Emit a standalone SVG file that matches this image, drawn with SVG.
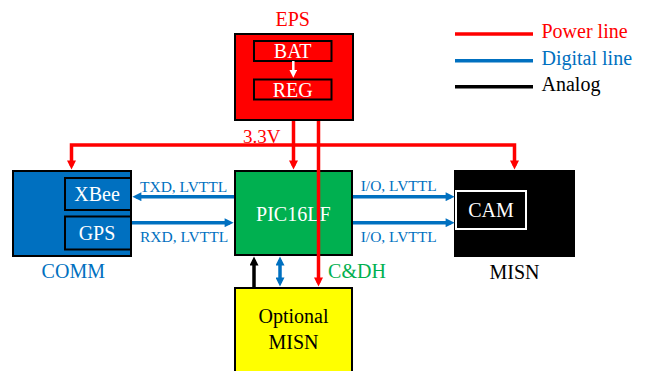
<svg xmlns="http://www.w3.org/2000/svg" width="648" height="371" viewBox="0 0 648 371" font-family="'Liberation Serif', 'DejaVu Serif', serif">
<style>
text{font-family:'Liberation Serif','DejaVu Serif',serif;}
.t20{font-size:20px;}
.lab{font-size:15.5px;fill:#0070c0;}
.c{text-anchor:middle;}
.w{fill:#ffffff;}
.box{stroke:#000000;stroke-width:2;}
.pw{stroke:#ff0000;stroke-width:3.5;fill:none;}
.dg{stroke:#0070c0;stroke-width:3.5;fill:none;}
.an{stroke:#000000;stroke-width:3.5;fill:none;}
</style>
<defs>
<marker id="ar" viewBox="0 0 10 10" refX="6" refY="5" markerWidth="10" markerHeight="9" markerUnits="userSpaceOnUse" orient="auto-start-reverse"><path d="M0,0 L10,5 L0,10 z" fill="#ff0000"/></marker>
<marker id="ab" viewBox="0 0 10 10" refX="6" refY="5" markerWidth="10" markerHeight="9" markerUnits="userSpaceOnUse" orient="auto-start-reverse"><path d="M0,0 L10,5 L0,10 z" fill="#0070c0"/></marker>
<marker id="ak" viewBox="0 0 10 10" refX="6" refY="5" markerWidth="10" markerHeight="9" markerUnits="userSpaceOnUse" orient="auto-start-reverse"><path d="M0,0 L10,5 L0,10 z" fill="#000000"/></marker>
<marker id="aw" viewBox="0 0 10 10" refX="6" refY="5" markerWidth="8" markerHeight="8" markerUnits="userSpaceOnUse" orient="auto"><path d="M0,0 L10,5 L0,10 z" fill="#ffffff"/></marker>
</defs>
<rect width="648" height="371" fill="#ffffff"/>

<g id="legend">
<line x1="455" y1="34" x2="533" y2="34" class="pw"/>
<line x1="455" y1="60.7" x2="533" y2="60.7" class="dg"/>
<line x1="455" y1="86.7" x2="533" y2="86.7" class="an"/>
<text x="541.5" y="38.3" class="t20" fill="#ff0000">Power line</text>
<text x="541.5" y="65" class="t20" fill="#0070c0">Digital line</text>
<text x="541.5" y="91" class="t20" fill="#000000">Analog</text>
</g>

<g id="eps">
<text x="292.7" y="25.5" class="t20 c" fill="#ff0000">EPS</text>
<rect x="235" y="34" width="118" height="86" fill="#ff0000" class="box"/>
<rect x="254" y="41" width="77.5" height="20" fill="#ff0000" class="box"/>
<rect x="254" y="79.5" width="77.5" height="20" fill="#ff0000" class="box"/>
<text x="292.7" y="57.5" class="t20 c w">BAT</text>
<text x="292.7" y="96.7" class="t20 c w">REG</text>
</g>

<g id="comm">
<rect x="13" y="171" width="118" height="85" fill="#0070c0" class="box"/>
<rect x="65" y="178" width="66" height="32" fill="#0070c0" class="box"/>
<rect x="65" y="216.5" width="66" height="33" fill="#0070c0" class="box"/>
<text x="97" y="200.7" class="t20 c w">XBee</text>
<text x="97" y="240" class="t20 c w">GPS</text>
<text x="73.3" y="278" class="t20 c" fill="#0070c0">COMM</text>
</g>

<g id="pic">
<rect x="235" y="171" width="117" height="84" fill="#00b050" class="box"/>
<text x="293.3" y="220.7" class="t20 c w">PIC16LF</text>
<text x="357" y="278.3" class="t20 c" fill="#00b050">C&amp;DH</text>
</g>

<g id="misn">
<rect x="455" y="171" width="119" height="85" fill="#000000" class="box"/>
<rect x="456" y="191" width="70" height="38" fill="#000000" stroke="#ffffff" stroke-width="2"/>
<text x="491" y="217.3" class="t20 c w">CAM</text>
<text x="514.5" y="279" class="t20 c" fill="#000000">MISN</text>
</g>

<g id="optional">
<rect x="235" y="288" width="117" height="100" fill="#ffff00" class="box"/>
<text x="293.5" y="323.3" class="t20 c" fill="#000000">Optional</text>
<text x="293.5" y="349.3" class="t20 c" fill="#000000">MISN</text>
</g>

<g id="connectors">
<path d="M71.5,166 L71.5,145 L514.5,145 L514.5,166" class="pw" marker-start="url(#ar)" marker-end="url(#ar)"/>
<line x1="293.5" y1="121" x2="293.5" y2="166" class="pw" marker-end="url(#ar)"/>
<line x1="318.5" y1="121" x2="318.5" y2="283" class="pw" marker-end="url(#ar)"/>
<line x1="293.3" y1="61" x2="293.3" y2="74.5" stroke="#ffffff" stroke-width="2.5" marker-end="url(#aw)"/>
<line x1="234" y1="196.7" x2="136" y2="196.7" class="dg" marker-end="url(#ab)"/>
<line x1="132" y1="222.7" x2="230" y2="222.7" class="dg" marker-end="url(#ab)"/>
<line x1="353" y1="196.7" x2="451" y2="196.7" class="dg" marker-end="url(#ab)"/>
<line x1="353" y1="222.7" x2="451" y2="222.7" class="dg" marker-end="url(#ab)"/>
<line x1="254" y1="287" x2="254" y2="260" class="an" marker-end="url(#ak)"/>
<line x1="280" y1="260" x2="280" y2="283" class="dg" marker-start="url(#ab)" marker-end="url(#ab)"/>
<text x="243" y="143" font-size="19" fill="#ff0000">3.3V</text>
<text x="140" y="191.7" class="lab">TXD, LVTTL</text>
<text x="140" y="241.7" class="lab">RXD, LVTTL</text>
<text x="360.7" y="190.7" class="lab">I/O, LVTTL</text>
<text x="360.7" y="241.7" class="lab">I/O, LVTTL</text>
</g>
</svg>
